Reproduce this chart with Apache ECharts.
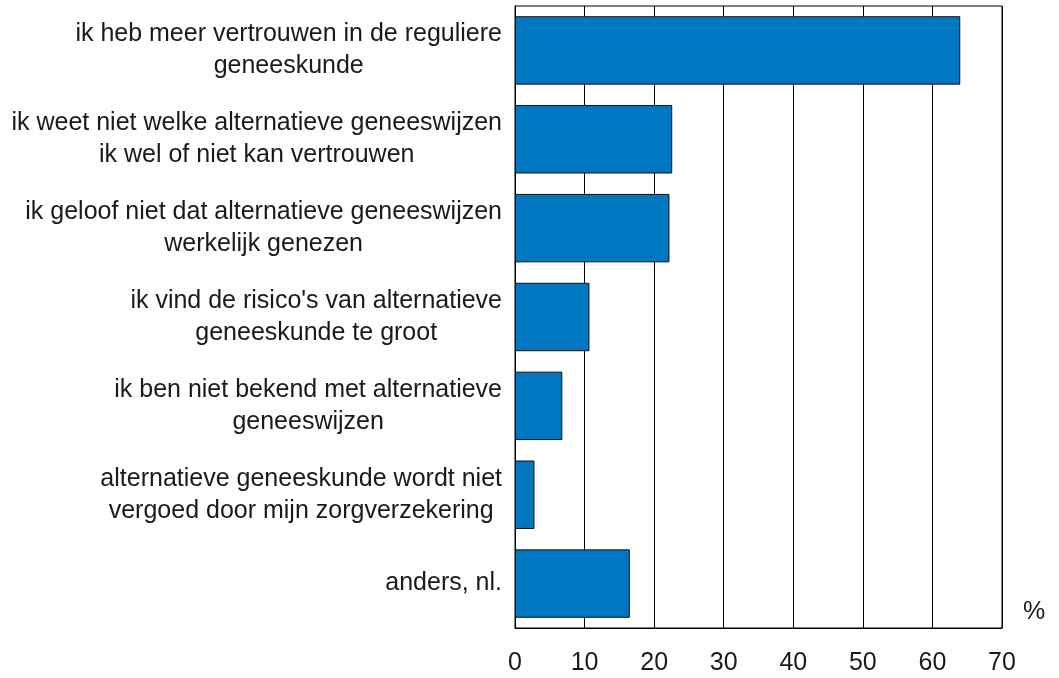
<!DOCTYPE html>
<html>
<head>
<meta charset="utf-8">
<script src="https://cdn.jsdelivr.net/npm/echarts@6/dist/echarts.min.js"></script>
<style>
  html, body { margin: 0; padding: 0; background: #ffffff; }
  #chart { width: 1059px; height: 678px; }
</style>
</head>
<body>
<div id="chart"></div>
<script>
const categories = [
  "ik heb meer vertrouwen in de reguliere\ngeneeskunde",
  "ik weet niet welke alternatieve geneeswijzen\nik wel of niet kan vertrouwen",
  "ik geloof niet dat alternatieve geneeswijzen\nwerkelijk genezen",
  "ik vind de risico's van alternatieve\ngeneeskunde te groot",
  "ik ben niet bekend met alternatieve\ngeneeswijzen",
  "alternatieve geneeskunde wordt niet\nvergoed door mijn zorgverzekering",
  "anders, nl."
];
const values = [64.0, 22.6, 22.2, 10.7, 6.8, 2.8, 16.5];
const xTicks = [0, 10, 20, 30, 40, 50, 60, 70];
const unitLabel = "%";

const chart = echarts.init(document.getElementById('chart'), null, { renderer: 'canvas' });
const FONT = '"Liberation Sans", Arial, Helvetica, sans-serif';

chart.setOption({
  animation: false,
  backgroundColor: '#ffffff',
  grid: {
    left: 515, right: 57, top: 6, bottom: 50,
    show: true, borderColor: '#000000', borderWidth: 1, backgroundColor: 'transparent'
  },
  xAxis: {
    type: 'value',
    min: xTicks[0],
    max: xTicks[xTicks.length - 1],
    interval: 10,
    name: unitLabel,
    nameLocation: 'end',
    nameGap: 21,
    nameTextStyle: {
      fontFamily: FONT, fontSize: 25, color: '#1a1a1a',
      verticalAlign: 'bottom', padding: [0, 0, 3, 0]
    },
    axisLine: { show: true, lineStyle: { color: '#000000', width: 1 } },
    axisTick: { show: false },
    splitLine: { show: true, lineStyle: { color: '#000000', width: 1 } },
    axisLabel: {
      margin: 23,
      fontFamily: FONT, fontSize: 25, color: '#1a1a1a',
      formatter: v => String(v)
    }
  },
  yAxis: {
    type: 'category',
    data: categories,
    inverse: true,
    axisLine: { show: true, lineStyle: { color: '#000000', width: 1 } },
    axisTick: { show: false },
    splitLine: { show: false },
    axisLabel: {
      margin: 13,
      align: 'right',
      fontFamily: FONT, fontSize: 25, color: '#1a1a1a',
      formatter: v => v.split('\n').map(s => '{c|' + s + '}').join('\n'),
      rich: {
        c: { align: 'center', fontFamily: FONT, fontSize: 25, lineHeight: 32, color: '#1a1a1a' }
      }
    }
  },
  series: [{
    type: 'bar',
    data: values,
    barCategoryGap: '23%',
    itemStyle: { color: '#0077c0', borderColor: '#111111', borderWidth: 1 },
    z: 3
  }]
});
</script>
</body>
</html>
